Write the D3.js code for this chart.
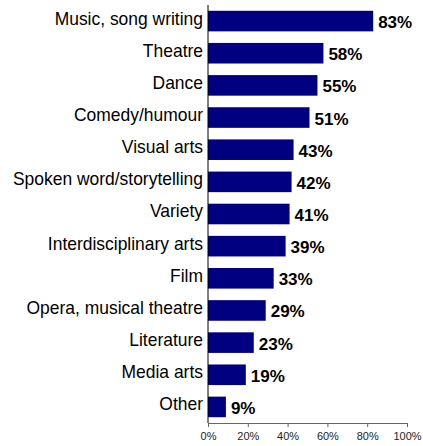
<!DOCTYPE html>
<html><head><meta charset="utf-8">
<script src="https://cdn.jsdelivr.net/npm/d3@7"></script>
<style>body{margin:0;background:#fff}svg{display:block}</style>
</head><body><svg id="c" width="423" height="446"></svg>
<script>
const categories = ["Music, song writing","Theatre","Dance","Comedy/humour","Visual arts","Spoken word/storytelling","Variety","Interdisciplinary arts","Film","Opera, musical theatre","Literature","Media arts","Other"];
const values = [83,58,55,51,43,42,41,39,33,29,23,19,9];
const ticks = [0,20,40,60,80,100];

const svg = d3.select("#c");
const m = {l:208, r:16, t:5, b:23};
const W = 423, H = 446;
const x = d3.scaleLinear().domain([0,100]).range([m.l, W-m.r]);
const y = d3.scaleBand().domain(categories).range([m.t, H-m.b]).paddingInner(0.36).paddingOuter(0.18);

svg.selectAll("rect.bar").data(categories).join("rect")
  .attr("x", x(0)).attr("y", d=>y(d))
  .attr("width", (d,i)=>x(values[i])-x(0)).attr("height", y.bandwidth())
  .attr("fill", "#000080");

svg.selectAll("text.val").data(categories).join("text")
  .attr("x", (d,i)=>x(values[i])+5).attr("y", d=>y(d)+y.bandwidth()/2+7)
  .attr("font-family","Liberation Sans, Arial, sans-serif").attr("font-size",17).attr("font-weight","bold")
  .text((d,i)=>values[i]+"%");

const catG = svg.append("g").attr("transform",`translate(${m.l-5},0) scale(0.97,1)`);
catG.selectAll("text.cat").data(categories).join("text")
  .attr("x", 0).attr("y", d=>y(d)+y.bandwidth()/2+3.5)
  .attr("text-anchor","end")
  .attr("font-family","Liberation Sans, Arial, sans-serif").attr("font-size",18)
  .text(d=>d);

// y axis line
svg.append("line").attr("x1",x(0)).attr("x2",x(0)).attr("y1",m.t).attr("y2",H-m.b).attr("stroke","#000");

const xa = svg.append("g").attr("transform",`translate(0,${H-m.b})`)
  .call(d3.axisBottom(x).tickValues(ticks).tickFormat(d=>d+"%").tickSize(4).tickSizeOuter(0));
xa.select(".domain").attr("stroke","#666");
xa.selectAll(".tick line").attr("stroke","#666");
xa.selectAll(".tick text").attr("font-family","Liberation Sans, Arial, sans-serif").attr("font-size",11).attr("fill","#222").attr("dy","0.9em");
</script></body></html>
